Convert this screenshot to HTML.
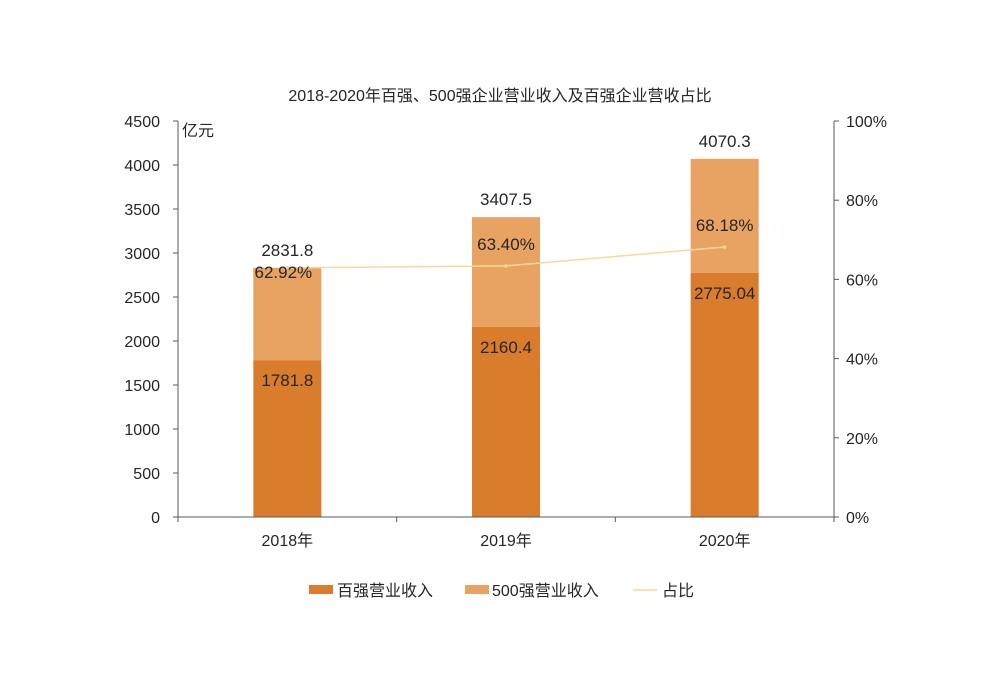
<!DOCTYPE html>
<html><head><meta charset="utf-8"><style>
body{margin:0;background:#fff;}
svg text{font-family:"Liberation Sans","Noto Sans CJK SC",sans-serif;fill:#262626;}
</style></head><body>
<svg id="c" width="1000" height="692" xmlns="http://www.w3.org/2000/svg"></svg>
<script>
const categories=["2018年","2019年","2020年"];
const top100=[1781.8,2160.4,2775.04];
const total500=[2831.8,3407.5,4070.3];
const ratio=[62.92,63.40,68.18];
const leftTicks=[0,500,1000,1500,2000,2500,3000,3500,4000,4500];
const rightTicks=[0,20,40,60,80,100];
const NS="http://www.w3.org/2000/svg";
const svg=document.getElementById('c');
const X0=178,X1=834,Y0=517,Y1=121;
const band=(X1-X0)/categories.length;
const xc=i=>X0+band*(i+0.5);
const yL=v=>Y0-(v/4500)*(Y0-Y1);
const yR=v=>Y0-(v/100)*(Y0-Y1);
function el(t,a,txt){const e=document.createElementNS(NS,t);for(const k in a)e.setAttribute(k,a[k]);if(txt!=null)e.textContent=txt;svg.appendChild(e);return e;}
let e;
e=el('text',{x:500,y:101,'text-anchor':'middle','font-size':16},"2018-2020年百强、500强企业营业收入及百强企业营收占比");


e=el('text',{x:182,y:136,'font-size':16},"亿元");


const bw=68;
categories.forEach((c,i)=>{
  e=el('rect',{x:xc(i)-bw/2,y:yL(total500[i]),width:bw,height:yL(top100[i])-yL(total500[i]),fill:'#E8A262'});
  
  
  e=el('rect',{x:xc(i)-bw/2,y:yL(top100[i]),width:bw,height:Y0-yL(top100[i]),fill:'#D97C2B'});
  
  
  e=el('text',{x:xc(i),y:yL(top100[i])+26,'text-anchor':'middle','font-size':17},String(top100[i]));
  
  
  e=el('text',{x:xc(i),y:yL(total500[i])-12,'text-anchor':'middle','font-size':17},String(total500[i]));
  
  
  e=el('text',{x:xc(i),y:yL(Y0)-150,'text-anchor':'middle','font-size':16},c);
  
  
  e.setAttribute('y',546);
});
let pts=ratio.map((r,i)=>xc(i)+','+yR(r)).join(' ');
e=el('polyline',{points:pts,fill:'none',stroke:'#FAD79A','stroke-width':1.5});


ratio.forEach((r,i)=>{
  e=el('circle',{cx:xc(i),cy:yR(r),r:1.8,fill:'#FAD79A'});
  
  
  const ly=i===0?yR(r)+10:yR(r)-16;
  e=el('text',{x:xc(i)-(i===0?4:0),y:ly,'text-anchor':'middle','font-size':17},r.toFixed(2)+'%');
  
  
});
// axes
e=el('line',{x1:X0,y1:Y1,x2:X0,y2:Y0,stroke:'#595959'});


e=el('line',{x1:X1,y1:Y1,x2:X1,y2:Y0,stroke:'#595959'});


e=el('line',{x1:X0,y1:Y0,x2:X1,y2:Y0,stroke:'#595959'});


for(let i=0;i<=categories.length;i++){
  e=el('line',{x1:X0+band*i,y1:Y0,x2:X0+band*i,y2:Y0+5,stroke:'#595959'});
  
  
}
leftTicks.forEach(t=>{
  e=el('line',{x1:X0-5,y1:yL(t),x2:X0,y2:yL(t),stroke:'#595959'});
  
  
  e=el('text',{x:160,y:yL(t)+6,'text-anchor':'end','font-size':16},String(t));
  
  
});
rightTicks.forEach(t=>{
  e=el('line',{x1:X1,y1:yR(t),x2:X1+5,y2:yR(t),stroke:'#595959'});
  
  
  e=el('text',{x:846,y:yR(t)+6,'font-size':16},t+'%');
  
  
});
// legend
e=el('rect',{x:309,y:585,width:24,height:9,fill:'#D97C2B'});


e=el('text',{x:337,y:596,'font-size':16},"百强营业收入");


e=el('rect',{x:465,y:585,width:24,height:9,fill:'#E8A262'});


e=el('text',{x:492,y:596,'font-size':16},"500强营业收入");


e=el('line',{x1:633,y1:590,x2:657,y2:590,stroke:'#FAD79A','stroke-width':1.5});


e=el('text',{x:662,y:596,'font-size':16},"占比");


</script>
</body></html>
